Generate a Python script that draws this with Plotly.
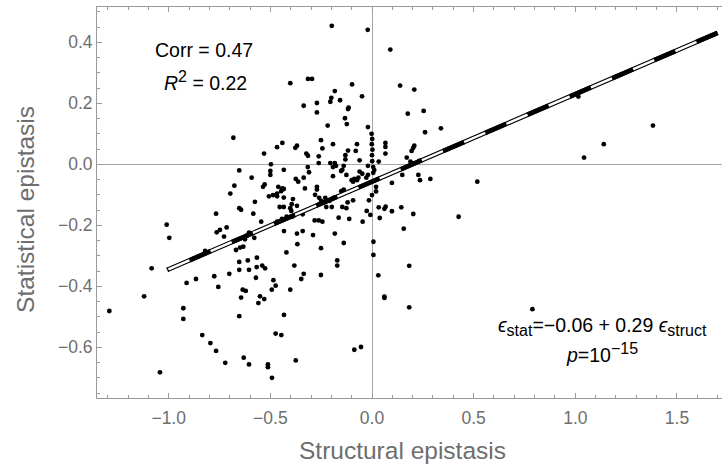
import plotly.graph_objects as go

# ---------------- data ----------------
struct_eps = [
    -0.198, -0.021, 0.090,
    -0.402, -0.315, -0.295, -0.098, -0.183, -0.200, -0.205, -0.157, -0.049, -0.336,
    -0.271, -0.271, -0.115, -0.118, -0.218, -0.133, -0.124, -0.020, -0.251, -0.244,
    -0.441, -0.467, -0.369, -0.377, -0.192, -0.074, -0.118, -0.080, -0.131, -0.131,
    -0.323, -0.315, -0.262, -0.262, -0.531, -0.061,
    -0.002, 0.001, -0.001, 0.002, 0.000, 0.001,
    -0.020, -0.205, -0.183, -0.177, -0.192, -0.139, -0.497, -0.500, -0.500, -0.434,
    -0.316, -0.310, -0.192, -0.152, -0.146, -0.126, -0.061, 0.006, 0.011, 0.006,
    -0.020, -0.375, -0.363, -0.336, -0.528, -0.536, -0.330, -0.271, -0.271,
    -0.100, -0.087, -0.067, -0.074, -0.093, -0.048, -0.028, -0.151, -0.139,
    -0.461, -0.441, -0.434, -0.467, -0.447, -0.507, -0.487, -0.467, -0.434,
    -0.389, -0.395, -0.280, -0.260, -0.250, -0.230, -0.210, -0.190,
    -0.120, -0.093, -0.015, 0.000, -0.454, -0.434, -0.402, -0.369, -0.225, -0.198,
    -0.146, -0.126,
    -0.682, -0.653, -0.592, -0.677, -0.697, -0.576, -0.653, -0.644,
    -1.010, -0.997, -1.084, -0.767, -0.584, -0.545, -0.715, -0.764, -0.748, -0.728,
    -0.605, -0.616, -0.625, -0.579, -0.821, -0.649, -0.633, -0.669, -0.653, -0.611,
    -0.566, -0.653, -0.605, -0.567, -0.540, -0.526, -0.702, -0.776, -0.866, -0.912,
    -0.756, -0.571, -0.636, -0.621, -0.644, -0.551, -0.530, -0.559, -0.928, -0.928,
    -0.653, -0.835, -0.795, -0.767, -0.722, -0.631, -0.605, -1.043, -1.292, -1.121,
    -0.397, -0.467, -0.443, -0.420, -0.394, -0.341, -0.282, -0.262, -0.244, -0.164,
    -0.112, -0.046, -0.026, -0.008, -0.433, -0.369, -0.341, -0.290, -0.183, -0.367,
    -0.421, -0.251, -0.139, 0.007, 0.007, -0.382, -0.336, -0.348, -0.251, -0.171,
    -0.171, -0.485, -0.474, -0.493, -0.402, -0.433, -0.474, -0.446, -0.087, -0.054,
    -0.375, -0.512, -0.512, -0.492,
    0.138, 0.208, 0.254, 0.176, 0.261, 0.339, 0.066, 0.066, 0.066, 0.208, 0.203,
    0.195, 0.171, 0.189, 0.232, 0.033, 0.149, 0.228, 0.236, 0.287, 0.098, 0.518,
    0.020, 0.020, 0.033, 0.061, 0.067, 0.098, 0.144, 0.203, 0.426, 0.038, 0.156,
    0.183, 0.031, 0.061, 0.061, 0.183, 1.015, 1.382, 1.140, 1.043, 0.789,
]

stat_eps = [
    0.454, 0.441, 0.376,
    0.266, 0.280, 0.280, 0.262, 0.240, 0.218, 0.205, 0.210, 0.223, 0.192,
    0.201, 0.170, 0.186, 0.181, 0.127, 0.151, 0.132, 0.122, 0.079, 0.052,
    0.070, 0.056, 0.061, 0.054, 0.066, 0.066, 0.045, 0.044, 0.030, 0.016,
    0.035, 0.028, 0.026, 0.004, 0.035, 0.013,
    0.100, 0.083, 0.066, 0.048, 0.030, 0.010,
    -0.005, 0.004, 0.004, -0.005, -0.009, -0.005, 0.000, -0.022, -0.035, -0.018,
    -0.009, -0.026, -0.039, -0.022, -0.018, -0.035, -0.024, -0.009, -0.019, -0.028,
    -0.035, -0.048, -0.057, -0.044, -0.066, -0.074, -0.079, -0.074, -0.083,
    -0.052, -0.048, -0.044, -0.052, -0.057, -0.031, -0.044, -0.088, -0.083,
    -0.074, -0.079, -0.081, -0.096, -0.088, -0.105, -0.101, -0.105, -0.109,
    -0.114, -0.131, -0.100, -0.110, -0.120, -0.110, -0.120, -0.110,
    -0.125, -0.118, -0.118, -0.101, -0.140, -0.140, -0.144, -0.136, -0.140, -0.140,
    -0.140, -0.144,
    0.087, -0.020, -0.044, -0.070, -0.096, -0.123, -0.144, -0.149,
    -0.198, -0.241, -0.341, -0.162, -0.162, -0.188, -0.207, -0.223, -0.215, -0.237,
    -0.224, -0.234, -0.246, -0.241, -0.284, -0.273, -0.270, -0.281, -0.320, -0.315,
    -0.306, -0.346, -0.346, -0.337, -0.332, -0.341, -0.359, -0.367, -0.376, -0.389,
    -0.402, -0.372, -0.411, -0.415, -0.437, -0.433, -0.442, -0.455, -0.472, -0.507,
    -0.498, -0.560, -0.586, -0.612, -0.651, -0.634, -0.656, -0.682, -0.481, -0.433,
    -0.153, -0.188, -0.179, -0.172, -0.172, -0.164, -0.184, -0.184, -0.188, -0.175,
    -0.179, -0.188, -0.153, -0.166, -0.219, -0.227, -0.219, -0.232, -0.227, -0.262,
    -0.289, -0.275, -0.258, -0.254, -0.297, -0.332, -0.359, -0.376, -0.363, -0.315,
    -0.332, -0.380, -0.398, -0.411, -0.411, -0.494, -0.555, -0.560, -0.608, -0.599,
    -0.643, -0.656, -0.665, -0.700,
    0.258, 0.245, 0.175, 0.166, 0.105, 0.118, 0.070, 0.057, 0.035, 0.061, 0.054,
    0.044, 0.022, 0.009, 0.011, 0.009, -0.035, -0.035, -0.052, -0.048, -0.061, -0.057,
    -0.074, -0.089, -0.141, -0.146, -0.139, -0.154, -0.141, -0.163, -0.172, -0.176, -0.211,
    -0.333, -0.364, -0.434, -0.438, -0.469, 0.222, 0.127, 0.066, 0.022, -0.475,
]

fit_intercept = -0.057
fit_slope = 0.287
fit_x_range = [-1.007, 1.70]

x_ticks = [-1.0, -0.5, 0.0, 0.5, 1.0, 1.5]
y_ticks = [-0.6, -0.4, -0.2, 0.0, 0.2, 0.4]

# ---------------- figure ----------------
FONT = "Liberation Sans, Arial, sans-serif"
GRAY_LINE = "#9a9a9a"
GRAY_TEXT = "#6e6e6e"

fit_y = [fit_intercept + fit_slope * x for x in fit_x_range]

fig = go.Figure()

# scatter points
fig.add_trace(go.Scatter(
    x=struct_eps, y=stat_eps, mode="markers",
    marker=dict(color="black", size=4.8, line=dict(width=0)),
    hoverinfo="skip", showlegend=False,
))

# fit line: black outline, white core, black dashes on top
fig.add_trace(go.Scatter(x=fit_x_range, y=fit_y, mode="lines",
                         line=dict(color="black", width=4.6),
                         hoverinfo="skip", showlegend=False))
fig.add_trace(go.Scatter(x=fit_x_range, y=fit_y, mode="lines",
                         line=dict(color="white", width=2.4),
                         hoverinfo="skip", showlegend=False))
fig.add_trace(go.Scatter(x=fit_x_range[::-1], y=fit_y[::-1], mode="lines",
                         line=dict(color="black", width=4.6, dash="23px,23px"),
                         hoverinfo="skip", showlegend=False))

axis_common = dict(
    showline=True, linecolor=GRAY_LINE, linewidth=1,
    ticks="inside", ticklen=5, tickwidth=1, tickcolor=GRAY_LINE,
    showgrid=False, zeroline=True, zerolinecolor="#a6a6a6", zerolinewidth=1,
    tickfont=dict(family=FONT, size=17.5, color=GRAY_TEXT),
    tickformat=".1f",
)

fig.update_xaxes(
    range=[-1.3527, 1.7216], tickvals=x_ticks, mirror="ticks",
    ticklabelstandoff=4,
    minor=dict(ticks="inside", ticklen=3, dtick=0.1, tick0=0, tickcolor=GRAY_LINE),
    **axis_common,
)
fig.update_yaxes(
    range=[-0.7662, 0.5157], tickvals=y_ticks, mirror=False,
    minor=dict(ticks="inside", ticklen=3, dtick=0.05, tick0=0, tickcolor=GRAY_LINE),
    **axis_common,
)

ann_font = dict(family=FONT, size=19.5, color="black")
annotations = [
    dict(x=-0.825, y=0.375, text="Corr = 0.47"),
    dict(x=-0.821, y=0.273,
         text="<i>R</i><sup><span style='font-size:16px'>2</span></sup> = 0.22"),
    dict(x=1.135, y=-0.532,
         text="<i>ϵ</i><sub><span style='font-size:16px'>stat</span></sub>=−0.06 + 0.29 "
              "<i>ϵ</i><sub><span style='font-size:16px'>struct</span></sub>"),
    dict(x=1.130, y=-0.619,
         text="<i>p</i>=10<sup><span style='font-size:16px'>−15</span></sup>"),
]
for a in annotations:
    fig.add_annotation(xref="x", yref="y", showarrow=False,
                       xanchor="center", yanchor="middle", font=ann_font, **a)

title_font = dict(family=FONT, size=24.5, color=GRAY_TEXT)
fig.add_annotation(xref="paper", yref="paper", x=0.488, y=-0.133,
                   text="Structural epistasis", showarrow=False,
                   xanchor="center", yanchor="middle", font=title_font)
fig.add_annotation(xref="paper", yref="paper", x=-0.1136, y=0.481,
                   text="Statistical epistasis", showarrow=False, textangle=-90,
                   xanchor="center", yanchor="middle", font=title_font)

fig.update_layout(
    width=722, height=469,
    margin=dict(l=97, r=0, t=7, b=71, pad=0),
    paper_bgcolor="white", plot_bgcolor="white",
    showlegend=False,
)

fig.write_html("out.html")
